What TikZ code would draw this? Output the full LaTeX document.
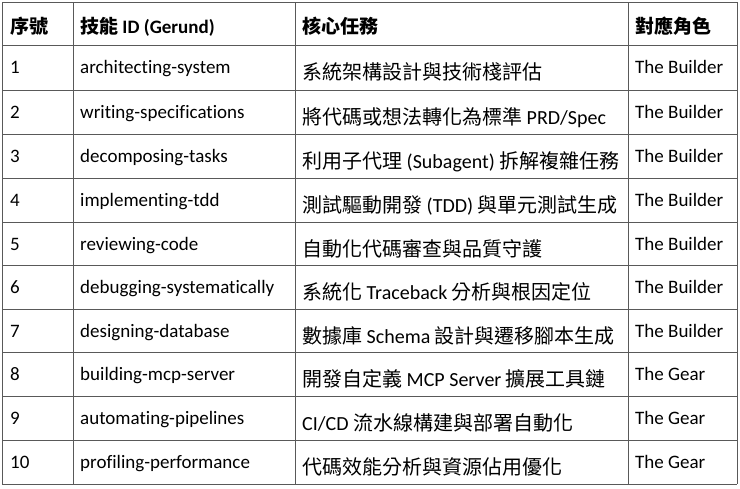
\documentclass[tikz,border=0pt]{standalone}
\usepackage{fontspec}
\setmainfont{Carlito}[Ligatures={NoCommon}]
\newfontfamily\zhf{Noto Sans CJK TC}
\newcommand{\zh}[1]{{\zhf #1}}
\begin{document}
\begin{tikzpicture}[x=1pt,y=-1pt,
  grid/.style={draw=black!65,line width=0.9pt},
  txt/.style={anchor=base west,inner sep=0pt,font=\fontsize{19}{22}\selectfont},
  tk/.style={anchor=base west,inner sep=0pt,font=\fontsize{20}{23}\selectfont},
  hd/.style={txt,font=\fontsize{19}{22}\selectfont\bfseries}]
\useasboundingbox[fill=white] (0,0) rectangle (740,488);
\foreach \y in {2,45,90,134,178,222,265,309,352,396,440,484} \draw[grid] (2,\y) -- (737,\y);
\foreach \x in {2,73,295,628,737} \draw[grid] (\x,2) -- (\x,484);
\node[hd] (h1) at (10,33) {\zh{\bfseries 序號}};
\node[hd] (h2) at (80,33) {\zh{\bfseries 技能} ID (Gerund)};
\node[hd] (h3) at (302,33) {\zh{\bfseries 核心任務}};
\node[hd] (h4) at (635,33) {\zh{\bfseries 對應角色}};
\foreach \n/\top/\skill/\task/\role in {
 1/45/architecting-system/{\zh{系統架構設計與技術棧評估}}/The Builder,
 2/90/writing-specifications/{\zh{將代碼或想法轉化為標準} PRD/Spec}/The Builder,
 3/134/decomposing-tasks/{\zh{利用子代理} (Subagent) \zh{拆解複雜任務}}/The Builder,
 4/178/implementing-tdd/{\zh{測試驅動開發} (TDD) \zh{與單元測試生成}}/The Builder,
 5/222/reviewing-code/{\zh{自動化代碼審查與品質守護}}/The Builder,
 6/265/debugging-systematically/{\zh{系統化} Traceback \zh{分析與根因定位}}/The Builder,
 7/309/designing-database/{\zh{數據庫} Schema \zh{設計與遷移腳本生成}}/The Builder,
 8/352/building-mcp-server/{\zh{開發自定義} MCP Server \zh{擴展工具鏈}}/The Gear,
 9/396/automating-pipelines/{CI/CD \zh{流水線構建與部署自動化}}/The Gear,
 10/440/profiling-performance/{\zh{代碼效能分析與資源佔用優化}}/The Gear}
{
 \node[txt] (n\n) at (10,\top+28) {\n};
 \node[txt] (s\n) at (80,\top+28) {\skill};
 \node[tk] (t\n) at (302,\top+34) {\task};
 \node[txt] (r\n) at (635,\top+28) {\role};
}
\end{tikzpicture}
\end{document}
